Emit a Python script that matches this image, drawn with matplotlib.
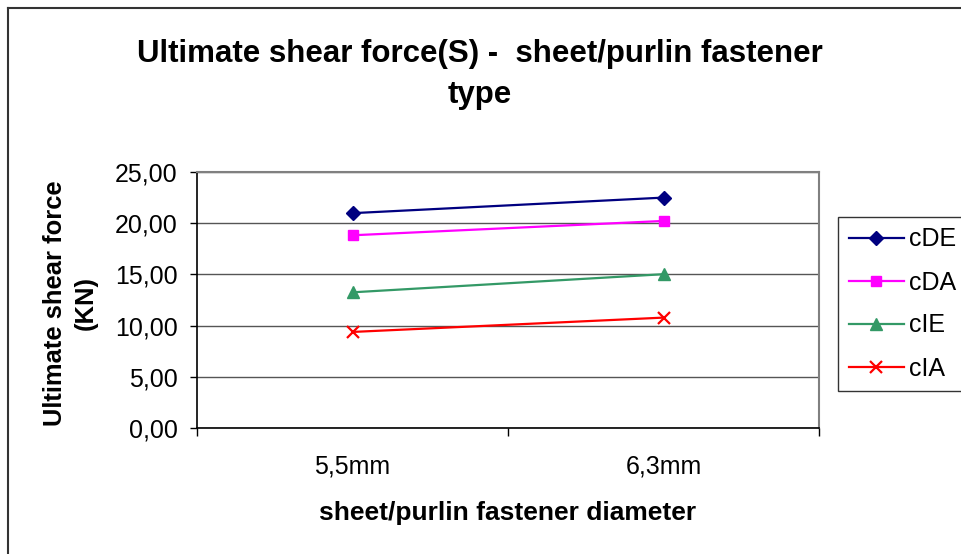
import matplotlib
matplotlib.use("Agg")
import matplotlib.pyplot as plt
from matplotlib.lines import Line2D

categories = ["5,5mm", "6,3mm"]
series_names = ["cDE", "cDA", "cIE", "cIA"]
cDE = [20.98, 22.50]
cDA = [18.82, 20.22]
cIE = [13.25, 15.02]
cIA = [9.38, 10.78]
y_ticks = [0, 5, 10, 15, 20, 25]

plt.rcParams["font.family"] = ["Liberation Sans", "DejaVu Sans"]

fig = plt.figure(figsize=(9.61, 5.54), dpi=100)
W, H = 961, 554
ax = fig.add_axes([197 / W, 1 - 428 / H, (819 - 197) / W, (428 - 172) / H])

styles = [
    dict(color="#000080", marker="D", markersize=7.5),
    dict(color="#FF00FF", marker="s", markersize=7.5),
    dict(color="#339966", marker="^", markersize=9),
    dict(color="#FF0000", marker="x", markersize=9, markeredgewidth=1.6),
]
xs = list(range(len(categories)))
for name, vals, st in zip(series_names, [cDE, cDA, cIE, cIA], styles):
    ax.plot(xs, vals, label=name, linewidth=1.6, **st)

ax.set_xlim(-0.5, len(categories) - 0.5)
ax.set_ylim(0, 25)
ax.set_yticks(y_ticks)
ax.set_yticklabels([f"{v:.2f}".replace(".", ",") for v in y_ticks], fontsize=18)
ax.set_xticks(xs)
ax.set_xticklabels(categories, fontsize=18)
ax.set_xticks([-0.5, 0.5, 1.5], minor=True)
ax.tick_params(axis="x", which="major", length=0, pad=19)
ax.tick_params(axis="x", which="minor", length=6, width=1, color="black")
ax.tick_params(axis="y", length=5, width=1, pad=9)

ax.grid(axis="y", color="#555555", linewidth=1)
ax.set_axisbelow(True)
for side in ("top", "right"):
    ax.spines[side].set_color("#808080")
    ax.spines[side].set_linewidth(1.5)
for side in ("left", "bottom"):
    ax.spines[side].set_color("black")
    ax.spines[side].set_linewidth(1.2)

ax.set_xlabel("sheet/purlin fastener diameter", fontsize=19, fontweight="bold", labelpad=16)
ax.set_ylabel("Ultimate shear force\n(KN)", fontsize=18.4, fontweight="bold",
              linespacing=1.38)
ax.yaxis.set_label_coords((98 - 197) / 622, (428 - 303.5) / 256)

fig.text(479.5 / W, 1 - 74.5 / H, "Ultimate shear force(S) -  sheet/purlin fastener\ntype",
         fontsize=22.5, fontweight="bold", ha="center", va="center", linespacing=1.49)

leg = fig.legend(loc="upper left", bbox_to_anchor=(838 / W, 1 - 217 / H), fontsize=18,
                 frameon=True, fancybox=False, edgecolor="black", borderpad=0.42,
                 handlelength=2.2, handletextpad=0.2, labelspacing=0.76, borderaxespad=0)
leg.get_frame().set_linewidth(1)

# chart area border: left and top edges (right and bottom fall outside the canvas)
fig.add_artist(Line2D([7.5 / W, 7.5 / W], [0, 1 - 7.5 / H], transform=fig.transFigure,
                      color="#333333", linewidth=1.5))
fig.add_artist(Line2D([7.5 / W, 1], [1 - 7.5 / H, 1 - 7.5 / H], transform=fig.transFigure,
                      color="#333333", linewidth=1.5))

fig.savefig("out.png", dpi=100)
